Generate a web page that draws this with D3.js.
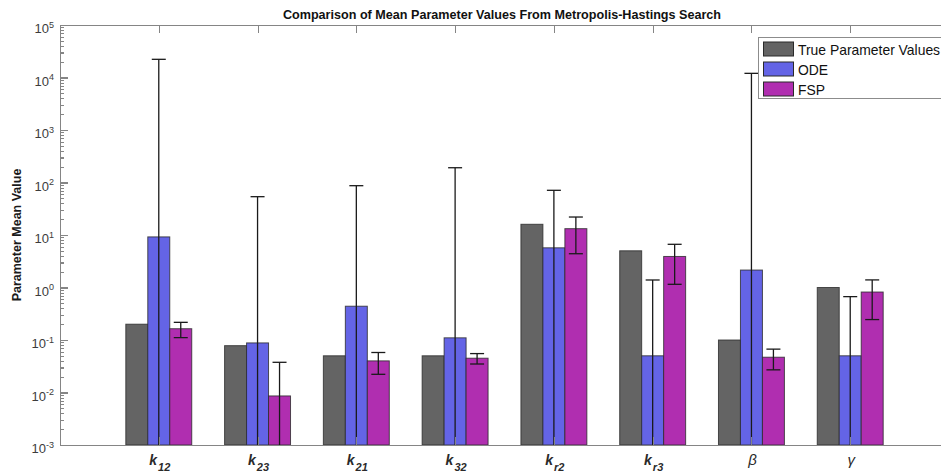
<!DOCTYPE html>
<html>
<head>
<meta charset="utf-8">
<script src="https://cdn.jsdelivr.net/npm/d3@7"></script>
<style>
  body { margin: 0; background: #fff; }
  svg { display: block; }
  text { font-family: "Liberation Sans", Arial, Helvetica, sans-serif; }
</style>
</head>
<body>
<svg id="chart" width="941" height="473"></svg>
<script>
// Parameter names: base symbol and subscript
const labelBase = ["k", "k", "k", "k", "k", "k", "\u03B2", "\u03B3"];
const labelSub  = ["12", "23", "21", "32", "r2", "r3", "", ""];
const seriesNames = ["True Parameter Values", "ODE", "FSP"];

// Mean values and error half-widths
const trueValues = [0.2, 0.078, 0.05, 0.05, 16, 5, 0.1, 1.0];
const odeMeans   = [9.2, 0.088, 0.44, 0.11, 5.7, 0.05, 2.15, 0.05];
const odeErrors  = [22190, 53.6, 86.5, 191, 65.3, 1.34, 12000, 0.62];
const fspMeans   = [0.164, 0.0086, 0.040, 0.045, 13.2, 3.9, 0.047, 0.82];
const fspErrors  = [0.053, 0.029, 0.0178, 0.0101, 8.8, 2.75, 0.020, 0.575];

// Decade tick exponents for the log axis
const yTickExponents = [5, 4, 3, 2, 1, 0, -1, -2, -3];

const seriesColors = ["#646464", "#6464e6", "#b02eb0"];

const svg = d3.select("#chart");
const plotLeft = 60, plotRight = 949, plotTop = 25, plotBottom = 445;

const cats = d3.range(1, labelBase.length + 1);
const x = d3.scaleLinear().domain([0, cats.length + 1]).range([plotLeft, plotRight]);
const y = d3.scaleLog().domain([1e-3, 1e5]).range([plotBottom, plotTop]);

const barUnits = 0.2225;               // width of one bar in category units
const offsets = [-barUnits, 0, barUnits];
const seriesValues = [trueValues, odeMeans, fspMeans];
const seriesErrors = [null, odeErrors, fspErrors];

svg.append("defs").append("clipPath").attr("id", "plotClip")
  .append("rect").attr("x", plotLeft).attr("y", plotTop)
  .attr("width", plotRight - plotLeft).attr("height", plotBottom - plotTop);

const plot = svg.append("g").attr("clip-path", "url(#plotClip)");

// Bars
seriesValues.forEach((vals, s) => {
  plot.append("g").selectAll("rect")
    .data(vals.map((v, i) => ({ v, c: cats[i] })))
    .join("rect")
    .attr("x", d => x(d.c + offsets[s] - barUnits / 2))
    .attr("width", d => x(d.c + offsets[s] + barUnits / 2) - x(d.c + offsets[s] - barUnits / 2))
    .attr("y", d => y(d.v))
    .attr("height", d => plotBottom - y(d.v))
    .attr("fill", seriesColors[s])
    .attr("stroke", "#2a2a2a")
    .attr("stroke-opacity", 0.8)
    .attr("stroke-width", 1);
});

// Error bars (lower ends that fall below the axis run to the baseline)
const capHalf = 7;
[1, 2].forEach(s => {
  const g = plot.append("g").attr("stroke", "#1a1a1a").attr("stroke-width", 1.3).attr("fill", "none");
  seriesValues[s].forEach((m, i) => {
    const e = seriesErrors[s][i];
    const cx = x(cats[i] + offsets[s]);
    const hi = m + e, lo = m - e;
    const yHi = y(hi);
    const yLo = lo > 1e-3 ? y(lo) : plotBottom + 2;
    g.append("line").attr("x1", cx).attr("x2", cx).attr("y1", yHi).attr("y2", yLo);
    g.append("line").attr("x1", cx - capHalf).attr("x2", cx + capHalf).attr("y1", yHi).attr("y2", yHi);
    if (lo > 1e-3) {
      g.append("line").attr("x1", cx - capHalf).attr("x2", cx + capHalf).attr("y1", yLo).attr("y2", yLo);
    }
  });
});

// Axes
const axisColor = "#858585";
const majors = yTickExponents.map(p => Math.pow(10, p));
const minors = [];
for (let p = -3; p < 5; p++) for (let k = 2; k <= 9; k++) minors.push(k * Math.pow(10, p));

function styleAxis(g) {
  g.selectAll("path, line").attr("stroke", axisColor).attr("stroke-width", 1.1);
  g.attr("shape-rendering", "crispEdges");
  g.selectAll("text").remove();
}

svg.append("g").attr("transform", `translate(${plotLeft},0)`)
  .call(d3.axisLeft(y).tickValues(majors).tickSizeInner(-8).tickSizeOuter(0).tickFormat(""))
  .call(styleAxis);
svg.append("g").attr("transform", `translate(${plotLeft},0)`)
  .call(d3.axisLeft(y).tickValues(minors).tickSizeInner(-4).tickSizeOuter(0).tickFormat(""))
  .call(styleAxis).call(g => g.select(".domain").remove());
svg.append("g").attr("transform", `translate(${plotRight},0)`)
  .call(d3.axisRight(y).tickValues(majors).tickSizeInner(-8).tickSizeOuter(0).tickFormat(""))
  .call(styleAxis);
svg.append("g").attr("transform", `translate(${plotRight},0)`)
  .call(d3.axisRight(y).tickValues(minors).tickSizeInner(-4).tickSizeOuter(0).tickFormat(""))
  .call(styleAxis).call(g => g.select(".domain").remove());
svg.append("g").attr("transform", `translate(0,${plotTop})`)
  .call(d3.axisTop(x).tickValues(cats).tickSizeInner(-8).tickSizeOuter(0).tickFormat(""))
  .call(styleAxis);
svg.append("g").attr("transform", `translate(0,${plotBottom})`)
  .call(d3.axisBottom(x).tickValues(cats).tickSizeInner(-8).tickSizeOuter(0).tickFormat(""))
  .call(styleAxis);

// Y tick labels: 10 with superscript exponent
const yLabels = svg.append("g").attr("fill", "#3c3c3c");
yTickExponents.forEach(p => {
  const t = yLabels.append("text")
    .attr("x", 54).attr("y", y(Math.pow(10, p)) + 8)
    .attr("text-anchor", "end").attr("font-size", 13);
  t.append("tspan").text("10");
  t.append("tspan").attr("font-size", 9).attr("dy", -5.4).text(String(p));
});

// X tick labels: parameter symbols with subscripts
const xLabels = svg.append("g").attr("fill", "#2a2a2a");
cats.forEach((c, i) => {
  const greek = labelSub[i] === "";
  const t = xLabels.append("text")
    .attr("x", x(c) + 1).attr("y", 465)
    .attr("text-anchor", "middle");
  if (greek) {
    t.attr("font-family", "'Liberation Serif', 'Times New Roman', serif")
      .attr("font-style", "italic").attr("font-size", 15)
      .text(labelBase[i]);
  } else {
    t.attr("font-weight", "bold").attr("font-style", "italic").attr("font-size", 14);
    t.append("tspan").text(labelBase[i]);
    t.append("tspan").attr("font-size", 11).attr("dy", 6).attr("dx", 1).text(labelSub[i]);
  }
});

// Title and y-axis label
svg.append("text")
  .attr("x", 502).attr("y", 19)
  .attr("text-anchor", "middle").attr("font-weight", "bold").attr("font-size", 12.6)
  .attr("fill", "#111")
  .text("Comparison of Mean Parameter Values From Metropolis-Hastings Search");

svg.append("text")
  .attr("transform", `translate(21,${(plotTop + plotBottom) / 2}) rotate(-90)`)
  .attr("text-anchor", "middle").attr("font-weight", "bold").attr("font-size", 12.5)
  .attr("fill", "#1a1a1a")
  .text("Parameter Mean Value");

// Legend
const legend = svg.append("g");
legend.append("rect")
  .attr("x", 758.5).attr("y", 37.5).attr("width", 220).attr("height", 61)
  .attr("fill", "#fff").attr("stroke", "#8c8c8c").attr("stroke-width", 1);
seriesNames.forEach((name, s) => {
  legend.append("rect")
    .attr("x", 763.5).attr("y", 42 + s * 20).attr("width", 30).attr("height", 14)
    .attr("fill", seriesColors[s]).attr("stroke", "#2a2a2a").attr("stroke-width", 1);
  legend.append("text")
    .attr("x", 798).attr("y", 55 + s * 20)
    .attr("font-size", 13.9).attr("fill", "#111")
    .text(name);
});
</script>
</body>
</html>
